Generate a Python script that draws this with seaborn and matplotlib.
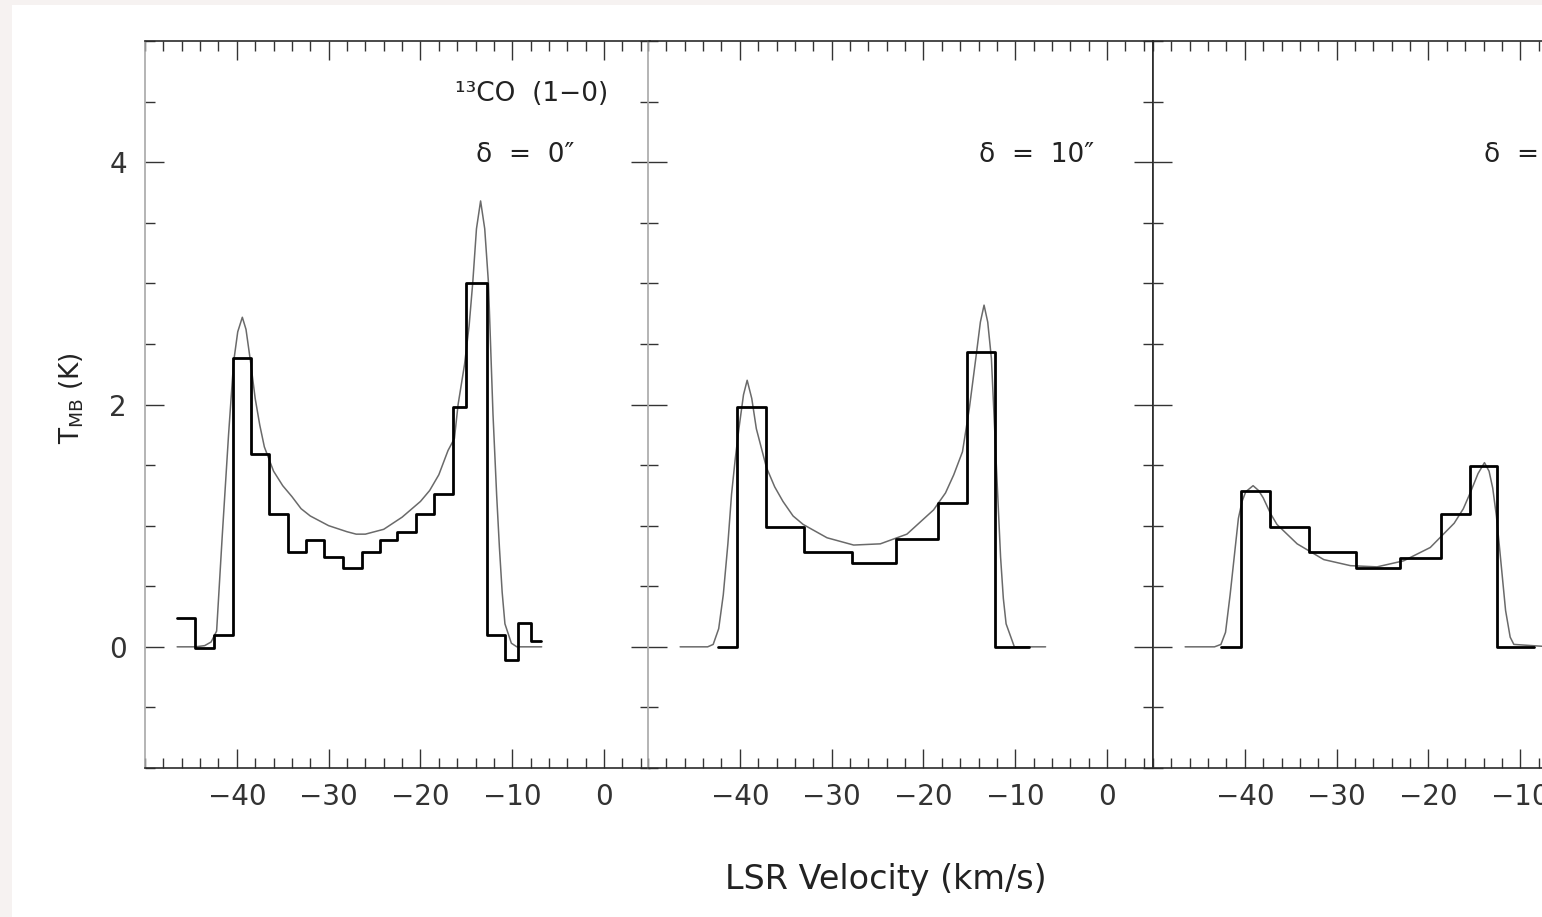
import matplotlib
matplotlib.use("Agg")
import matplotlib.pyplot as plt
from matplotlib.patches import Rectangle
import seaborn as sns
import pandas as pd

# ---------------- data ----------------
# Panel 1 (delta = 0")  observed spectrum: bin edges and bin values
p1_edges = [-46.5, -44.5, -42.45, -40.4, -38.45, -36.45, -34.45, -32.45, -30.5,
            -28.45, -26.4, -24.45, -22.5, -20.45, -18.5, -16.45, -15.0, -12.75,
            -10.8, -9.35, -8.0, -6.9]
p1_vals = [0.24, -0.01, 0.10, 2.38, 1.59, 1.10, 0.78, 0.88, 0.74, 0.65, 0.78,
           0.88, 0.95, 1.10, 1.26, 1.98, 3.00, 0.10, -0.11, 0.20, 0.05]
# Panel 1 model curve
p1_mv = [-46.5, -44.5, -43.5, -42.8, -42.2, -41.6, -40.9, -40.35, -39.9, -39.4,
         -39.0, -38.5, -38.0, -37.5, -37.0, -36.0, -35.0, -34.0, -33.0, -32.0,
         -30.0, -28.0, -27.0, -26.0, -24.0, -22.0, -20.0, -19.0, -18.0, -17.0,
         -16.3, -15.9, -15.2, -14.7, -14.3, -13.9, -13.45, -13.0, -12.6, -12.1,
         -11.7, -11.4, -11.1, -10.8, -10.1, -9.5, -6.8]
p1_mt = [0.0, 0.0, 0.01, 0.04, 0.13, 0.90, 1.75, 2.35, 2.60, 2.72,
         2.62, 2.35, 2.05, 1.83, 1.65, 1.45, 1.33, 1.24, 1.14, 1.08,
         1.00, 0.95, 0.93, 0.93, 0.97, 1.07, 1.20, 1.29, 1.42, 1.62,
         1.72, 2.00, 2.33, 2.65, 3.01, 3.45, 3.68, 3.45, 3.01, 1.92,
         1.25, 0.82, 0.45, 0.19, 0.03, 0.0, 0.0]

# Panel 2 (delta = 10")
p2_edges = [-42.4, -40.3, -37.2, -33.0, -27.8, -23.0, -18.4, -15.3, -12.2, -8.5]
p2_vals = [0.0, 1.98, 0.99, 0.78, 0.69, 0.89, 1.19, 2.43, 0.0]
p2_mv = [-46.5, -43.5, -42.9, -42.3, -41.8, -41.3, -40.9, -40.5, -40.1, -39.6,
         -39.2, -38.7, -38.2, -37.1, -36.2, -35.3, -34.2, -33.1, -30.5, -27.6,
         -24.7, -21.8, -18.9, -17.6, -16.7, -15.75, -15.0, -14.3, -13.8, -13.4,
         -13.0, -12.6, -12.1, -11.6, -11.3, -11.0, -10.1, -6.7]
p2_mt = [0.0, 0.0, 0.02, 0.15, 0.43, 0.85, 1.26, 1.55, 1.80, 2.08,
         2.20, 2.05, 1.80, 1.48, 1.32, 1.20, 1.08, 1.01, 0.90, 0.84,
         0.85, 0.93, 1.13, 1.27, 1.42, 1.61, 1.97, 2.38, 2.68, 2.82,
         2.68, 2.38, 1.56, 0.74, 0.40, 0.19, 0.0, 0.0]

# Panel 3 (delta = 20")
p3_edges = [-42.6, -40.4, -37.3, -33.0, -27.9, -23.1, -18.6, -15.5, -12.55, -8.5]
p3_vals = [0.0, 1.29, 0.99, 0.78, 0.65, 0.73, 1.10, 1.49, 0.0]
p3_mv = [-46.5, -43.3, -42.6, -42.1, -41.6, -41.1, -40.7, -40.3, -39.9, -39.1,
         -38.5, -38.0, -37.2, -36.5, -34.3, -31.4, -28.5, -25.6, -22.7, -19.8,
         -17.2, -16.2, -15.4, -14.6, -13.9, -13.4, -13.0, -12.6, -12.3, -11.6,
         -11.1, -10.7, -6.7]
p3_mt = [0.0, 0.0, 0.02, 0.12, 0.43, 0.78, 1.06, 1.20, 1.28, 1.33,
         1.29, 1.23, 1.10, 1.01, 0.85, 0.72, 0.67, 0.66, 0.71, 0.82,
         1.02, 1.14, 1.28, 1.43, 1.52, 1.45, 1.31, 1.08, 0.85, 0.30,
         0.08, 0.02, 0.0]

panel_labels = ["\u03b4  =  0\u2033", "\u03b4  =  10\u2033", "\u03b4  =  20\u2033"]
line_label = "\u00b9\u00b3CO  (1\u22120)"
x_ticks = [-40, -30, -20, -10, 0]
y_ticks = [0, 2, 4]

# ---------------- style ----------------
sns.set_style("ticks")
plt.rcParams["font.family"] = ["DejaVu Sans"]
plt.rcParams["mathtext.fontset"] = "dejavusans"

W, H = 1542, 917
fig = plt.figure(figsize=(W / 100, H / 100), dpi=100, facecolor="#f6f2f1")
fig.add_artist(Rectangle((12 / W, 0), 1, 1 - 5 / H, transform=fig.transFigure,
                         facecolor="white", edgecolor="none", zorder=-5))

ax_bottom = (917 - 768) / H
ax_height = 727 / H
ax_width = 505 / W
lefts = [145 / W, 648 / W, 1153 / W]

panels = [(p1_edges, p1_vals, p1_mv, p1_mt),
          (p2_edges, p2_vals, p2_mv, p2_mt),
          (p3_edges, p3_vals, p3_mv, p3_mt)]

spine_col = "#2a2a2a"
light_col = "#a8a8a8"

for i, (edges, vals, mv, mt) in enumerate(panels):
    ax = fig.add_axes([lefts[i], ax_bottom, ax_width, ax_height])
    ax.set_facecolor("white")

    model = pd.DataFrame({"v": mv, "T": mt})
    sns.lineplot(data=model, x="v", y="T", ax=ax, color="#6a6a6a", lw=1.1,
                 estimator=None, sort=False, zorder=2)

    obs = pd.DataFrame({"v": edges, "T": list(vals) + [vals[-1]]})
    sns.lineplot(data=obs, x="v", y="T", ax=ax, color="black", lw=2.0,
                 drawstyle="steps-post", estimator=None, sort=False, zorder=3)

    ax.set_xlim(-50, 5)
    ax.set_ylim(-1, 5)
    ax.set_xticks(x_ticks)
    ax.set_xticks([v for v in range(-50, 6, 2)], minor=True)
    ax.set_yticks(y_ticks)
    ax.set_yticks([-1 + 0.5 * k for k in range(13)], minor=True)
    ax.tick_params(which="both", direction="in", top=True, right=True,
                   color="#333333", width=1.0)
    ax.tick_params(which="major", length=14)
    ax.tick_params(which="minor", length=7)
    ax.tick_params(axis="x", which="major", labelsize=20, pad=11,
                   labelcolor="#333333")
    ax.tick_params(axis="y", which="major", labelsize=20, pad=13,
                   labelcolor="#333333")
    if i > 0:
        ax.tick_params(axis="y", labelleft=False)
    ax.set_xlabel("")
    ax.set_ylabel("")

    for s in ax.spines.values():
        s.set_linewidth(1.2)
        s.set_color(spine_col)
    if i == 0:
        ax.spines["left"].set_color(light_col)
        ax.spines["right"].set_color(light_col)
    if i == 1:
        ax.spines["left"].set_color(light_col)

    ax.text(-14.0, 4.06, panel_labels[i], fontsize=19, ha="left",
            va="center", color="#222222")
    if i == 0:
        ax.text(0.5, 4.56, line_label, fontsize=19, ha="right",
                va="center", color="#222222")

fig.text(886 / W, 1 - 880 / H, "LSR Velocity (km/s)", fontsize=24,
         ha="center", va="center", color="#222222")
fig.text(72 / W, 1 - 398 / H, r"T$_{\rm MB}$ (K)", fontsize=19,
         rotation=90, ha="center", va="center", color="#222222")

fig.savefig("out.png", dpi=100, facecolor=fig.get_facecolor())
